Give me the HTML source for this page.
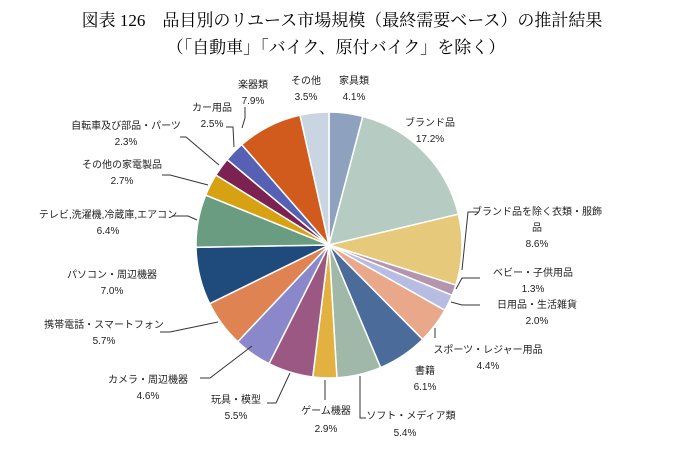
<!DOCTYPE html>
<html><head><meta charset="utf-8"><style>
body{margin:0;background:#fff;width:689px;height:445px;overflow:hidden}
.t{font-family:"Liberation Serif","Noto Serif CJK SC","Noto Sans CJK JP",serif;font-size:17px;fill:#000}
.l{font-family:"Liberation Sans","Noto Sans CJK JP",sans-serif;font-size:10px;fill:#222;text-anchor:middle}
</style></head><body>
<svg id="s" width="689" height="445" xmlns="http://www.w3.org/2000/svg">
<text class="t" x="342" y="26" text-anchor="middle">図表 126　品目別のリユース市場規模（最終需要ベース）の推計結果</text>
<text class="t" x="336" y="53" text-anchor="middle">（「自動車」「バイク、原付バイク」を除く）</text>
<g id="pie"></g>
<g fill="none" stroke="#333" stroke-width="1">
<polyline points="245,107 245,118 242,128"/>
<polyline points="226,127 233,127 234,147"/>
<polyline points="180,137 186,137 219,165"/>
<polyline points="162,175 170,175 208,185"/>
<polyline points="172,216 188,216 197,220"/>
<polyline points="478,212 468,212 462,270"/>
<polyline points="480,278 462,278 456,289"/>
<polyline points="480,305 462,305 451,302"/>
<polyline points="435,328 435,338"/>
<polyline points="160,332 170,332 218,322"/>
<polyline points="200,378 210,378 252,346"/>
<polyline points="267,403 276,403 290,373"/>
<polyline points="325,400 325,380"/>
<polyline points="366,418 360,418 360,376"/>
</g>
<g class="l">
<text x="253" y="88">楽器類</text><text x="253" y="104">7.9%</text>
<text x="306" y="84">その他</text><text x="306" y="100">3.5%</text>
<text x="354" y="84">家具類</text><text x="354" y="100">4.1%</text>
<text x="212" y="111">カー用品</text><text x="212" y="127">2.5%</text>
<text x="430" y="126">ブランド品</text><text x="430" y="142">17.2%</text>
<text x="126" y="129">自転車及び部品・パーツ</text><text x="126" y="145">2.3%</text>
<text x="122" y="168">その他の家電製品</text><text x="122" y="184">2.7%</text>
<text x="108" y="218">テレビ,洗濯機,冷蔵庫,エアコン</text><text x="108" y="234">6.4%</text>
<text x="537" y="215">ブランド品を除く衣類・服飾</text><text x="537" y="231">品</text><text x="537" y="247">8.6%</text>
<text x="533" y="276">ベビー・子供用品</text><text x="533" y="292">1.3%</text>
<text x="537" y="308">日用品・生活雑貨</text><text x="537" y="324">2.0%</text>
<text x="112" y="278">パソコン・周辺機器</text><text x="112" y="294">7.0%</text>
<text x="104" y="328">携帯電話・スマートフォン</text><text x="104" y="344">5.7%</text>
<text x="488" y="353">スポーツ・レジャー用品</text><text x="488" y="369">4.4%</text>
<text x="425" y="374">書籍</text><text x="425" y="390">6.1%</text>
<text x="148" y="383">カメラ・周辺機器</text><text x="148" y="399">4.6%</text>
<text x="236" y="403">玩具・模型</text><text x="236" y="419">5.5%</text>
<text x="326" y="414">ゲーム機器</text><text x="326" y="432">2.9%</text>
<text x="411" y="419">ソフト・メディア類</text><text x="405" y="436">5.4%</text>
</g>
</svg>
<script>
var d=[[4.1,"#8ea2c0"],[17.2,"#b6cbc2"],[8.6,"#e7c97b"],[1.3,"#b595ae"],[2.0,"#b7bce2"],[4.4,"#e9a889"],[6.1,"#4b6c9b"],[5.4,"#9fb8a8"],[2.9,"#e2b13f"],[5.5,"#9a5882"],[4.6,"#8a87cb"],[5.7,"#e08352"],[7.0,"#1f4b7c"],[6.4,"#6a9c82"],[2.7,"#d6a212"],[2.3,"#7b2252"],[2.5,"#5660b4"],[7.9,"#d15b1c"],[3.5,"#c9d5e1"]];
var cx=329,cy=245,r=133,tot=0;d.forEach(function(x){tot+=x[0]});
var a=-Math.PI/2,g=document.getElementById("pie"),h="";
d.forEach(function(x){var b=a+x[0]/tot*2*Math.PI;
var x1=cx+r*Math.cos(a),y1=cy+r*Math.sin(a),x2=cx+r*Math.cos(b),y2=cy+r*Math.sin(b);
h+='<path d="M'+cx+','+cy+'L'+x1.toFixed(2)+','+y1.toFixed(2)+'A'+r+','+r+' 0 '+(b-a>Math.PI?1:0)+' 1 '+x2.toFixed(2)+','+y2.toFixed(2)+'Z" fill="'+x[1]+'" stroke="#fff" stroke-width="1.5"/>';a=b;});
g.innerHTML=h;
</script>
</body></html>
